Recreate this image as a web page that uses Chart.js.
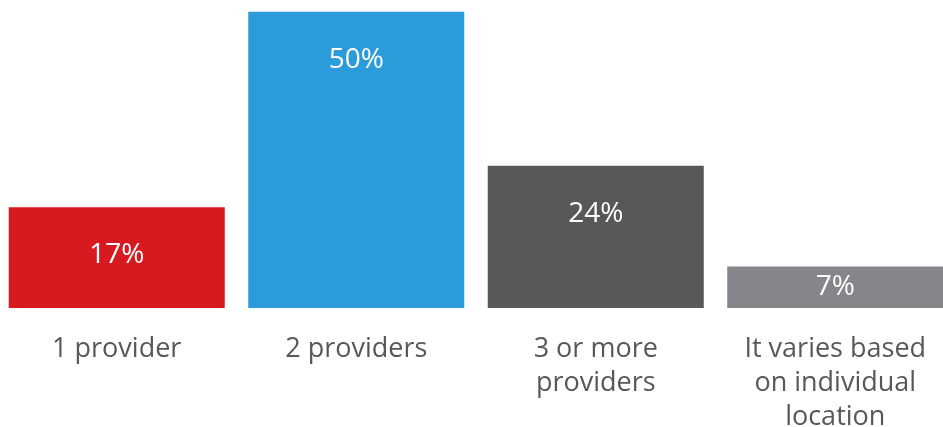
<!DOCTYPE html>
<html>
<head>
<meta charset="utf-8">
<script src="https://cdn.jsdelivr.net/npm/chart.js@4"></script>
<style>
  html, body { margin: 0; padding: 0; background: #fff; overflow: hidden; }
  #wrap { position: absolute; left: -3px; top: 0; width: 958px; height: 450px; }
</style>
</head>
<body>
<div id="wrap"><canvas id="chart"></canvas></div>
<script>
  // categories and values
  const categories = [
    ["1 provider"],
    ["2 providers"],
    ["3 or more", "providers"],
    ["It varies based", "on individual", "location"]
  ];
  const shares = [17, 50, 24, 7];
  const barColors = ["#d71920", "#2b9bd9", "#58585a", "#858689"];

  // white % labels inside the bars
  const valueLabels = {
    id: "valueLabels",
    afterDatasetsDraw(chart) {
      const ctx = chart.ctx;
      const meta = chart.getDatasetMeta(0);
      ctx.save();
      ctx.fillStyle = "#ffffff";
      ctx.font = "28px 'Open Sans'";
      ctx.textAlign = "center";
      ctx.textBaseline = "middle";
      meta.data.forEach((bar, i) => {
        let y = Math.min(bar.y + 48, (bar.y + bar.base) / 2);
        ctx.fillText(shares[i] + "%", bar.x, y);
      });
      ctx.restore();
    }
  };

  new Chart(document.getElementById("chart"), {
    type: "bar",
    data: {
      labels: categories,
      datasets: [{
        data: shares,
        backgroundColor: barColors,
        borderWidth: 0,
        barPercentage: 0.902,
        categoryPercentage: 1
      }]
    },
    options: {
      responsive: true,
      maintainAspectRatio: false,
      animation: false,
      layout: { padding: 0 },
      plugins: {
        legend: { display: false },
        tooltip: { enabled: false }
      },
      scales: {
        x: {
          grid: { display: false },
          border: { display: false },
          ticks: {
            color: "#58585a",
            padding: 16,
            maxRotation: 0,
            autoSkip: false,
            font: { family: "'Open Sans'", size: 27, lineHeight: "34px" }
          }
        },
        y: {
          display: false,
          min: 0,
          max: 52
        }
      }
    },
    plugins: [valueLabels]
  });
</script>
</body>
</html>
